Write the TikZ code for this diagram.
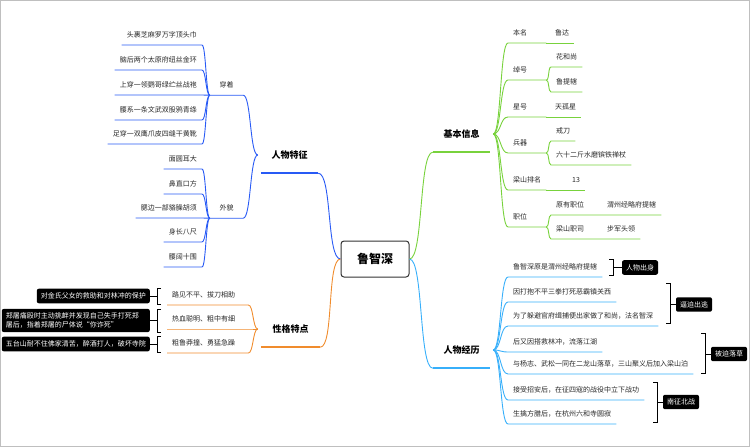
\documentclass[tikz,border=0pt]{standalone}
\usepackage{fontspec}
\setmainfont{Noto Sans CJK SC}
\usetikzlibrary{calc}
\definecolor{tzblue}{RGB}{40,90,245}
\definecolor{xgorange}{RGB}{240,140,45}
\definecolor{jbgreen}{RGB}{120,210,60}
\definecolor{jlcyan}{RGB}{55,175,250}
\definecolor{leafgray}{RGB}{40,40,40}

\tikzset{
  leaf/.style={font=\fontsize{7}{8.5}\selectfont, text=leafgray, inner xsep=5pt, inner ysep=0pt, minimum height=20pt},
  sub/.style={leaf, text width=28pt},
  topic/.style={font=\fontsize{9}{11}\selectfont\bfseries, inner sep=0pt, minimum height=36pt},
  tag/.style={fill=black, rounded corners=2pt, text=white, font=\fontsize{7}{8.5}\selectfont, inner xsep=4pt, inner ysep=4pt, align=left},
  brk/.style={black, line width=0.9pt},
  twig/.style={line width=0.9pt},
  bar/.style={line width=2.5pt},
}

\begin{document}
\begin{tikzpicture}[x=1pt,y=-1pt]
\useasboundingbox (0,0) rectangle (750,447);
\draw[black!25] (0.5,0.5) rectangle (749.5,446.5);

% centre
\node[draw=black!80, line width=1pt, rounded corners=3pt, minimum width=68pt, minimum height=36pt,
      font=\fontsize{12}{14}\selectfont\bfseries] (root) at (375,259) {鲁智深};

% 人物特征
\node[topic, minimum width=57pt] (tz) at (289.5,155) {人物特征};
\draw[tzblue, bar] (tz.south west) -- (tz.south east);
\draw[tzblue, twig] (root.west) to[out=180,in=0,distance=14pt] (tz.south east);
\coordinate (tzj) at ([xshift=-3pt]tz.west);

\node[leaf, minimum width=33pt] (cz) at (226.5,85) {穿着};
\node[leaf, minimum width=33pt] (wm) at (226.5,208) {外貌};
\draw[tzblue, twig] (cz.south west) -- (cz.south east) to[out=0,in=180,distance=8pt] (tzj);
\draw[tzblue, twig] (wm.south west) -- (wm.south east) to[out=0,in=180,distance=8pt] (tzj);

\foreach \txt/\yy [count=\i] in {头裹芝麻罗万字顶头巾/45, 脑后两个太原府纽丝金环/70, 上穿一领鹦哥绿纻丝战袍/95,
    腰系一条文武双股鸦青绦/120, 足穿一双鹰爪皮四缝干黄靴/144}{
  \node[leaf, anchor=south east] (cz\i) at (202,\yy) {\txt};
  \draw[tzblue, twig] (cz\i.south west) -- (cz\i.south east) to[out=0,in=180,distance=4pt] (cz.south west);
}
\foreach \txt/\yy [count=\i] in {面圆耳大/169, 鼻直口方/194, 腮边一部貉臊胡须/218, 身长八尺/242, 腰阔十围/267}{
  \node[leaf, anchor=south east] (wm\i) at (202,\yy) {\txt};
  \draw[tzblue, twig] (wm\i.south west) -- (wm\i.south east) to[out=0,in=180,distance=4pt] (wm.south west);
}

% 性格特点
\node[topic, minimum width=59pt] (xg) at (290.5,329) {性格特点};
\draw[xgorange, bar] (xg.south west) -- (xg.south east);
\draw[xgorange, twig] (root.west) to[out=180,in=0,distance=14pt] (xg.south east);
\coordinate (xgj) at ([xshift=-3pt]xg.west);
\foreach \txt/\yy [count=\i] in {路见不平、拔刀相助/305, 热血聪明、粗中有细/329, 粗鲁莽撞、勇猛急躁/353}{
  \node[leaf, anchor=south west, text width=71pt] (xg\i) at (167,\yy) {\txt};
  \draw[xgorange, twig] (xg\i.south west) -- (xg\i.south east) to[out=0,in=180,distance=5pt] (xgj);
}

% notes on the left
\node[tag, anchor=east] (n1) at (150,296) {对金氏父女的救助和对林冲的保护};
\node[tag, anchor=east, text width=140pt] (n2) at (150,320.5) {郑屠痛殴时主动挑衅并发现自己失手打死郑\\屠后，指着郑屠的尸体说“你诈死”};
\node[tag, anchor=east] (n3) at (150,344) {五台山耐不住佛家清苦，醉酒打人，破坏寺院};
\draw[brk] (161,288) -- (157,288) -- (157,304) -- (161,304) (n1.east) -- (157,296);
\draw[brk] (161,309) -- (157,309) -- (157,332) -- (161,332) (n2.east) -- (157,320.5);
\draw[brk] (161,336) -- (157,336) -- (157,352) -- (161,352) (n3.east) -- (157,344);

% 基本信息
\node[topic, minimum width=57pt] (jb) at (461.5,134) {基本信息};
\draw[jbgreen, bar] (jb.south west) -- (jb.south east);
\draw[jbgreen, twig] (root.east) to[out=0,in=180,distance=14pt] (jb.south west);
\coordinate (jbj) at ([xshift=3pt]jb.east);
\foreach \txt/\yy/\nm in {本名/43/bm, 绰号/80/ch, 星号/117/xh, 兵器/153/bq, 梁山排名/190/pm, 职位/227/zw}{
  \node[sub, anchor=south west] (\nm) at (508,\yy) {\txt};
  \draw[jbgreen, twig] (jbj) to[out=0,in=180,distance=8pt] (\nm.south west) -- (\nm.south east);
}
\node[leaf, anchor=south west] (bmv) at (550,43) {鲁达};
\node[leaf, anchor=south west] (xhv) at (550,117) {天孤星};
\node[leaf, anchor=south west] (pmv) at (567,190) {13};
\draw[jbgreen, twig] (bm.south east) -- (bmv.south east);
\draw[jbgreen, twig] (xh.south east) -- (xhv.south east);
\draw[jbgreen, twig] (pm.south east) -- (pmv.south east);

\node[leaf, anchor=south west] (ch1) at (551,67) {花和尚};
\node[leaf, anchor=south west] (ch2) at (551,92) {鲁提辖};
\draw[jbgreen, twig] (ch.south east) to[out=0,in=180,distance=3pt] (ch1.south west) -- (ch1.south east);
\draw[jbgreen, twig] (ch.south east) to[out=0,in=180,distance=3pt] (ch2.south west) -- (ch2.south east);

\node[leaf, anchor=south west] (bq1) at (551,141) {戒刀};
\node[leaf, anchor=south west] (bq2) at (551,165) {六十二斤水磨镔铁禅杖};
\draw[jbgreen, twig] (bq.south east) to[out=0,in=180,distance=3pt] (bq1.south west) -- (bq1.south east);
\draw[jbgreen, twig] (bq.south east) to[out=0,in=180,distance=3pt] (bq2.south west) -- (bq2.south east);

\node[leaf, anchor=south west] (zw1) at (551,215) {原有职位};
\node[leaf, anchor=south west] (zw1v) at (602,215) {渭州经略府提辖};
\node[leaf, anchor=south west] (zw2) at (551,239) {梁山职司};
\node[leaf, anchor=south west] (zw2v) at (602,239) {步军头领};
\draw[jbgreen, twig] (zw.south east) to[out=0,in=180,distance=3pt] (zw1.south west) -- (zw1v.south east);
\draw[jbgreen, twig] (zw.south east) to[out=0,in=180,distance=3pt] (zw2.south west) -- (zw2v.south east);

% 人物经历
\node[topic, minimum width=57pt] (jl) at (461.5,350) {人物经历};
\draw[jlcyan, bar] (jl.south west) -- (jl.south east);
\draw[jlcyan, twig] (root.east) to[out=0,in=180,distance=14pt] (jl.south west);
\coordinate (jlj) at ([xshift=3pt]jl.east);
\foreach \txt/\yy [count=\i] in {鲁智深原是渭州经略府提辖/277, 因打抱不平三拳打死恶霸镇关西/302,
    为了躲避官府缉捕便出家做了和尚，法名智深/326, 后又因搭救林冲，流落江湖/352,
    与杨志、武松一同在二龙山落草，三山聚义后加入梁山泊/374, 接受招安后，在征四寇的战役中立下战功/400,
    生擒方腊后，在杭州六和寺圆寂/424}{
  \node[leaf, anchor=south west] (jl\i) at (508,\yy) {\txt};
  \draw[jlcyan, twig] (jlj) to[out=0,in=180,distance=8pt] (jl\i.south west) -- (jl\i.south east);
}

% tags on the right
\node[tag] (cs) at (640,267.5) {人物出身};
\node[tag] (bp) at (694,304.5) {逼迫出逃};
\node[tag] (lc) at (729,354) {被迫落草};
\node[tag] (nz) at (681,402) {南征北战};
\draw[brk] (609,259) -- (613,259) -- (613,275) -- (609,275) (613,267.5) -- (cs.west);
\draw[brk] (666,283) -- (670,283) -- (670,323) -- (666,323) (670,304.5) -- (bp.west);
\draw[brk] (701,333) -- (705,333) -- (705,373) -- (701,373) (705,354) -- (lc.west);
\draw[brk] (653,382) -- (657,382) -- (657,422) -- (653,422) (657,402) -- (nz.west);
\end{tikzpicture}
\end{document}
